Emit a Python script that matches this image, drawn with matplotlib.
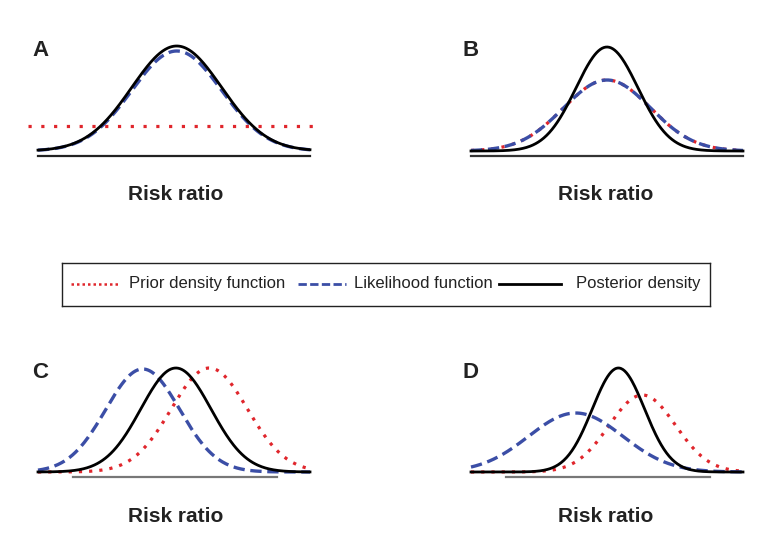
import numpy as np
import matplotlib.pyplot as plt

# panel letters and curve parameters (x in arbitrary risk-ratio units 0..10, y relative density)
panels = ['A', 'B', 'C', 'D']
prior_mean = [None, 5.0, 6.3, 6.3]
prior_sd = [None, 1.6, 1.4, 1.22]
prior_peak = [0.25, 0.71, 1.04, 0.77]
lik_mean = [5.1, 5.0, 3.85, 3.85]
lik_sd = [1.65, 1.6, 1.36, 1.73]
lik_peak = [1.0, 0.71, 1.03, 0.59]
post_mean = [5.1, 5.0, 5.07, 5.42]
post_sd = [1.65, 1.14, 1.29, 0.96]
post_peak = [1.05, 1.04, 1.04, 1.04]
axis_start = [0, 0, 1.3, 1.3]
axis_end = [10, 10, 8.8, 8.8]
axis_color = ['#222222', '#333333', '#777777', '#777777']

legend_labels = ['Prior density function', 'Likelihood function', 'Posterior density']

RED = '#e0262c'
BLUE = '#3b4ea6'
W, H = 770, 558

fig = plt.figure(figsize=(W / 100, H / 100), dpi=100)
plt.rcParams['font.family'] = ['Liberation Sans', 'DejaVu Sans']


def px_axes(x0, y0, x1, y1):
    return fig.add_axes([x0 / W, 1 - y1 / H, (x1 - x0) / W, (y1 - y0) / H])


def bump(x, m, s, p):
    return p * np.exp(-(x - m) ** 2 / (2 * s ** 2))


x = np.linspace(0, 10, 300)
origins = [(38, 151), (471, 151), (38, 472), (471, 472)]
dotted = (0, (1, 2.2))
dashed = (0, (3.4, 1.7))

for i, name in enumerate(panels):
    ox, oy = origins[i]
    ax = px_axes(ox - 27.2, oy - 120, ox + 299.2, oy + 20)
    ax.set_xlim(-1, 11)
    ax.set_ylim(-0.2, 1.2)
    ax.axis('off')

    # baseline
    ax.plot([axis_start[i], axis_end[i]], [-0.05, -0.05], color=axis_color[i], lw=1.6)

    # prior
    if prior_mean[i] is None:
        ax.plot([-0.37, 10.37], [prior_peak[i], prior_peak[i]], color=RED, lw=2.3,
                linestyle=(0, (1, 3.0)))
    else:
        ax.plot(x, bump(x, prior_mean[i], prior_sd[i], prior_peak[i]), color=RED, lw=2.3,
                linestyle=dotted)
    # likelihood
    ax.plot(x, bump(x, lik_mean[i], lik_sd[i], lik_peak[i]), color=BLUE, lw=2.4, linestyle=dashed)
    # posterior
    ax.plot(x, bump(x, post_mean[i], post_sd[i], post_peak[i]), color='black', lw=2.0)

    # panel letter and axis title
    lx = 32 if i % 2 == 0 else 462
    ly = 51 if i < 2 else 372
    fig.text(lx / W, 1 - ly / H, name, fontsize=16, fontweight='bold', ha='left', va='center',
             color='#222222')
    tx = 176 if i % 2 == 0 else 606
    ty = 194 if i < 2 else 516
    fig.text(tx / W, 1 - ty / H, 'Risk ratio', fontsize=15, fontweight='bold', ha='center',
             va='center', color='#222222')

# legend box drawn in pixel coordinates
lg = px_axes(62, 263, 710, 306)
lg.set_xlim(62, 710)
lg.set_ylim(306, 263)
lg.set_xticks([])
lg.set_yticks([])
for sp in lg.spines.values():
    sp.set_linewidth(1.0)
    sp.set_color('#222222')
yc = 284
lg.plot([71, 119], [yc, yc], color=RED, lw=1.8, linestyle=(0, (1, 1.2)))
lg.text(129, yc, legend_labels[0], fontsize=12, va='center', ha='left', color='#222222')
lg.plot([298, 346], [yc, yc], color=BLUE, lw=2.0, linestyle=(0, (3, 1.2)))
lg.text(354, yc, legend_labels[1], fontsize=12, va='center', ha='left', color='#222222')
lg.plot([499, 561], [yc, yc], color='black', lw=2.0)
lg.text(576, yc, legend_labels[2], fontsize=12, va='center', ha='left', color='#222222')

fig.savefig('out.png', dpi=100)
